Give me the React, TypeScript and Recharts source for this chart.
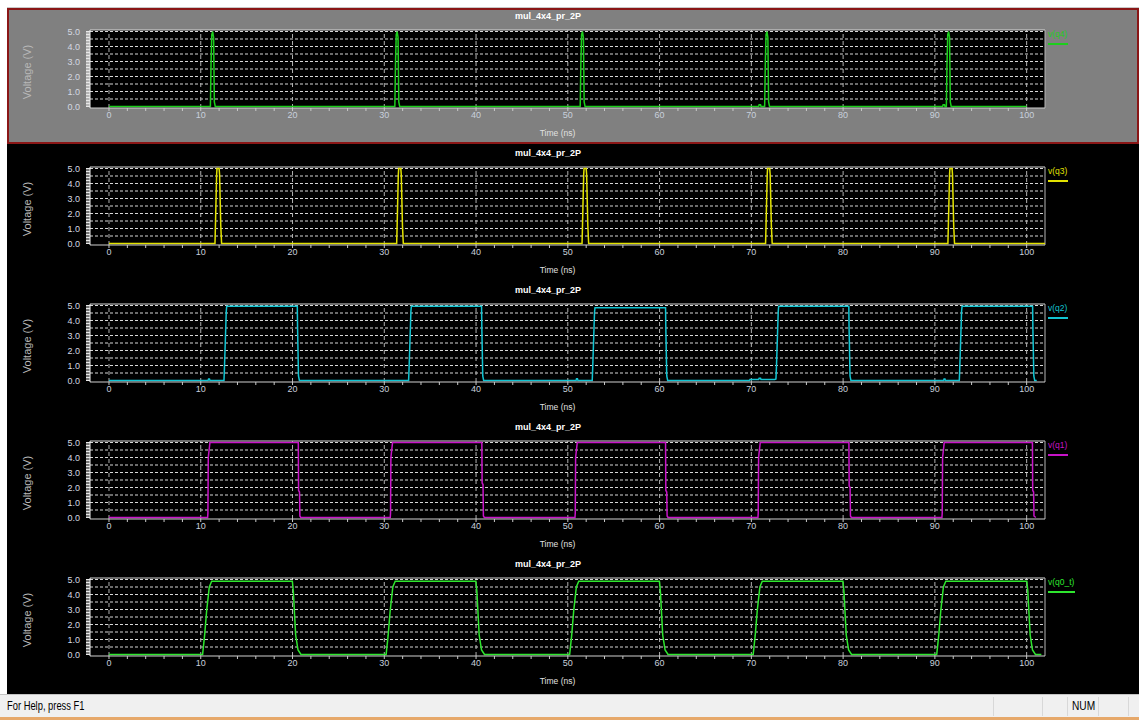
import { LineChart, Line, XAxis, YAxis, ReferenceLine, CartesianGrid } from 'recharts'

const FONT = '"Liberation Sans", Arial, sans-serif'

// axis ticks
const xTickLabels = [0, 10, 20, 30, 40, 50, 60, 70, 80, 90, 100]
const xMinorTicks = Array.from({ length: 51 }, (_, i) => i * 2)
const yTickLabels = [0, 1, 2, 3, 4, 5]
const yMinorTicks = Array.from({ length: 51 }, (_, i) => i / 10)
const yGridLevels = [0.5, 1, 1.5, 2, 2.5, 3, 3.5, 4, 4.5, 5]

const panelTitle = 'mul_4x4_pr_2P'

// [time (ns), voltage (V)]
const q4Points: [number, number][] = [
  [0, 0],
  [11.05, 0], [11.12, 2.8], [11.2, 4.8], [11.3, 5.0], [11.4, 4.6], [11.48, 0.3], [11.58, 0],
  [31.15, 0], [31.22, 2.8], [31.3, 4.8], [31.4, 5.0], [31.5, 4.6], [31.58, 0.3], [31.68, 0],
  [51.35, 0], [51.42, 2.8], [51.5, 4.8], [51.6, 5.0], [51.7, 4.6], [51.78, 0.3], [51.88, 0],
  [70.8, 0], [70.85, 0.12], [71.0, 0.12], [71.05, 0],
  [71.45, 0], [71.52, 2.8], [71.6, 4.8], [71.7, 5.0], [71.8, 4.6], [71.88, 0.3], [71.98, 0],
  [90.85, 0], [90.9, 0.12], [91.05, 0.12], [91.1, 0],
  [91.25, 0], [91.32, 2.8], [91.4, 4.8], [91.5, 5.0], [91.6, 4.6], [91.68, 0.3], [91.78, 0],
  [100, 0],
]

const q3Points: [number, number][] = [
  [0, 0],
  [11.55, 0], [11.6, 1.2], [11.73, 4.6], [11.77, 5.0], [12.0, 5.0], [12.05, 4.6], [12.18, 1.2], [12.27, 0],
  [31.35, 0], [31.4, 1.2], [31.53, 4.6], [31.57, 5.0], [31.8, 5.0], [31.85, 4.6], [31.98, 1.2], [32.07, 0],
  [51.55, 0], [51.6, 1.2], [51.73, 4.6], [51.77, 5.0], [52.0, 5.0], [52.05, 4.6], [52.18, 1.2], [52.27, 0],
  [71.55, 0], [71.6, 1.2], [71.73, 4.6], [71.77, 5.0], [72.0, 5.0], [72.05, 4.6], [72.18, 1.2], [72.27, 0],
  [91.42, 0], [91.47, 1.2], [91.6, 4.6], [91.64, 5.0], [91.87, 5.0], [91.92, 4.6], [92.05, 1.2], [92.14, 0],
  [102, 0],
]

const q2Points: [number, number][] = [
  [0, 0], [10.8, 0], [10.85, 0.1], [10.95, 0.1], [11.0, 0],
  [12.53, 0], [12.58, 0.8], [12.78, 4.6], [12.83, 4.95], [20.52, 4.95], [20.55, 3.5], [20.65, 0.3], [20.75, 0],
  [32.65, 0], [32.7, 0.8], [32.9, 4.6], [32.95, 4.95], [40.6, 4.95], [40.63, 3.5], [40.73, 0.3], [40.83, 0],
  [50.9, 0], [50.95, 0.12], [51.05, 0.12], [51.1, 0],
  [52.66, 0], [52.71, 0.8], [52.91, 4.55], [52.96, 4.85], [60.65, 4.85], [60.68, 3.5], [60.78, 0.3], [60.88, 0],
  [69.8, 0], [69.85, 0.06], [70.8, 0.06], [70.85, 0.15], [71.0, 0.15], [71.05, 0.06], [72.55, 0.06],
  [72.68, 0.1], [72.73, 0.8], [72.93, 4.6], [72.98, 4.95], [80.62, 4.95], [80.65, 3.5], [80.75, 0.3], [80.85, 0],
  [90.95, 0], [91.0, 0.1], [91.1, 0.1], [91.15, 0],
  [92.66, 0], [92.71, 0.8], [92.91, 4.6], [92.96, 4.95], [100.65, 4.95], [100.68, 3.5], [100.78, 0.3], [100.88, 0],
  [101.1, 0],
]

const q1Points: [number, number][] = [
  [0, 0],
  [10.75, 0], [10.78, 0.3], [10.82, 4.0], [11.0, 5.0], [20.63, 5.0], [20.66, 1.8], [20.76, 1.7], [20.8, 0.1], [20.9, 0],
  [30.65, 0], [30.68, 0.3], [30.72, 4.0], [30.9, 5.0], [40.63, 5.0], [40.66, 2.3], [40.76, 2.2], [40.8, 0.1], [40.9, 0],
  [50.78, 0], [50.81, 0.3], [50.85, 4.0], [51.03, 5.0], [60.65, 5.0], [60.68, 1.8], [60.78, 1.7], [60.82, 0.1], [60.92, 0],
  [70.72, 0], [70.75, 0.3], [70.79, 4.0], [70.97, 5.0], [80.63, 5.0], [80.66, 2.1], [80.76, 2.0], [80.8, 0.1], [80.9, 0],
  [90.77, 0], [90.8, 0.3], [90.84, 4.0], [91.02, 5.0], [100.63, 5.0], [100.66, 1.8], [100.76, 1.7], [100.8, 0.1], [100.9, 0.05], [101.0, 0],
]

const q0Points: [number, number][] = [
  [0, 0],
  [10.2, 0], [10.42, 1.27], [10.64, 2.9], [10.93, 4.5], [11.19, 4.88], [19.98, 4.88], [20.09, 4.2], [20.34, 1.3], [20.6, 0.3], [20.92, 0],
  [30.2, 0], [30.42, 1.27], [30.64, 2.9], [30.93, 4.5], [31.19, 4.88], [39.98, 4.88], [40.09, 4.2], [40.34, 1.3], [40.6, 0.3], [40.92, 0],
  [50.2, 0], [50.42, 1.27], [50.64, 2.9], [50.93, 4.5], [51.19, 4.88], [59.98, 4.88], [60.09, 4.2], [60.34, 1.3], [60.6, 0.3], [60.92, 0],
  [70.2, 0], [70.42, 1.27], [70.64, 2.9], [70.93, 4.5], [71.19, 4.88], [79.98, 4.88], [80.09, 4.2], [80.34, 1.3], [80.6, 0.3], [80.92, 0],
  [90.2, 0], [90.42, 1.27], [90.64, 2.9], [90.93, 4.5], [91.19, 4.88], [100.02, 4.88], [100.13, 4.2], [100.38, 1.3], [100.64, 0.3], [100.96, 0],
  [101.6, 0],
]

const seriesNames = ['v(q4)', 'v(q3)', 'v(q2)', 'v(q1)', 'v(q0_t)']
const seriesColors = ['#1ccf1c', '#e2e200', '#12c4d2', '#c814c8', '#2ee62e']
const seriesPoints = [q4Points, q3Points, q2Points, q1Points, q0Points]

const XTick = (props: any) => {
  const { x, y, payload } = props
  if (!xTickLabels.includes(payload.value)) return <g />
  return (
    <text x={x} y={y} dy={7} textAnchor="middle" fill="#c8d0dc" fontSize={9} fontFamily={FONT}>
      {payload.value}
    </text>
  )
}

const YTick = (props: any) => {
  const { x, y, payload } = props
  const v = payload.value
  if (!yTickLabels.some((l) => Math.abs(l - v) < 1e-6)) return <g />
  return (
    <text x={x} y={y} dy={3} textAnchor="end" fill="#d4d8e0" fontSize={9} fontFamily={FONT}>
      {v.toFixed(1)}
    </text>
  )
}

const renderVoltLabel = (props: any) => {
  const vb = props.viewBox
  const cx = vb.x + 20
  const cy = vb.y + vb.height / 2 + 3
  return (
    <text transform={`translate(${cx},${cy}) rotate(-90)`} textAnchor="middle" dominantBaseline="central"
      fill="#b8b8b8" fontSize={11} fontFamily={FONT}>
      Voltage (V)
    </text>
  )
}

const renderTimeLabel = (props: any) => {
  const vb = props.viewBox
  return (
    <text x={vb.x + vb.width / 2 - 10} y={vb.y + 25} textAnchor="middle" dominantBaseline="central"
      fill="#e0e0e0" fontSize={8.5} fontFamily={FONT}>
      Time (ns)
    </text>
  )
}

function Panel({ index }: { index: number }) {
  const rows = seriesPoints[index].map(([t, v]) => ({ t, v }))
  const color = seriesColors[index]
  const name = seriesNames[index]
  return (
    <div style={{ position: 'absolute', left: 7, top: 8 + 137 * index, width: 1132, height: 137 }}>
      <LineChart width={1132} height={137} margin={{ top: 22, right: 94, bottom: 7, left: 0 }}
        style={{ fontFamily: FONT }}>
        <CartesianGrid fill="#000" stroke="none" horizontal={false} vertical={false} />
        <XAxis type="number" dataKey="t" domain={[-2.07, 102]} allowDataOverflow ticks={xMinorTicks}
          interval={0} tick={<XTick />} tickSize={3} tickMargin={0}
          tickLine={{ stroke: '#c8c8c8' }} axisLine={{ stroke: '#d0d0d0' }} height={30}
          label={renderTimeLabel} />
        <YAxis type="number" domain={[-0.1, 5.1]} allowDataOverflow ticks={yMinorTicks} interval={0}
          tick={<YTick />} tickSize={4} tickMargin={6} tickLine={{ stroke: '#e8e8e8' }}
          axisLine={{ stroke: '#f4f4f4' }} width={83} label={renderVoltLabel} />
        {yGridLevels.map((y) => (
          <ReferenceLine key={'h' + y} y={y} stroke="#d8d8d8" strokeDasharray="3 2" />
        ))}
        {xTickLabels.map((x) => (
          <ReferenceLine key={'v' + x} x={x} stroke="#b0b0b0" strokeDasharray="4 3" />
        ))}
        <ReferenceLine y={5.1} stroke="#d8d8d8" />
        <ReferenceLine x={102} stroke="#b4b4b4" />
        <Line data={rows} dataKey="v" type="linear" stroke={color} strokeWidth={1.5}
          dot={false} isAnimationActive={false} />
      </LineChart>
      <div style={{ position: 'absolute', left: 548 - 7 - 60, width: 120, top: 3, textAlign: 'center',
        color: '#fff', fontSize: 9, fontWeight: 'bold', fontFamily: FONT }}>
        {panelTitle}
      </div>
      <div style={{ position: 'absolute', left: 1041, top: 21, color, fontSize: 8.5, fontFamily: FONT }}>
        {name}
      </div>
      <div style={{ position: 'absolute', left: 1041, top: 35, width: name.length > 5 ? 27 : 20,
        height: 1.5, background: color }} />
    </div>
  )
}

export default function App() {
  return (
    <div style={{ position: 'fixed', left: 0, top: 0, width: 1139, height: 720, background: '#fff',
      overflow: 'hidden', fontFamily: FONT }}>
      <div style={{ position: 'absolute', left: 7, top: 7, width: 1132, height: 1, background: '#c8c8c8' }} />
      <div style={{ position: 'absolute', left: 7, top: 8, width: 1132, height: 136, background: '#808080',
        border: '2px solid #8a1616', boxSizing: 'border-box' }} />
      <div style={{ position: 'absolute', left: 7, top: 144, width: 1132, height: 550, background: '#000' }} />
      {seriesNames.map((_, i) => (
        <Panel key={i} index={i} />
      ))}
      <div style={{ position: 'absolute', left: 0, top: 694, width: 1139, height: 23, background: '#f0f0f0',
        borderTop: '1px solid #c4c4c4', boxSizing: 'border-box' }}>
        <div style={{ position: 'absolute', left: 7, top: 3, fontSize: 13, color: '#000', fontFamily: FONT,
          transform: 'scaleX(0.72)', transformOrigin: 'left', whiteSpace: 'nowrap' }}>
          For Help, press F1
        </div>
        {[993, 1042, 1067, 1098, 1128].map((x) => (
          <div key={x} style={{ position: 'absolute', left: x, top: 2, width: 1, height: 19, background: '#d8d8d8' }} />
        ))}
        <div style={{ position: 'absolute', left: 1072, top: 3, fontSize: 13, color: '#000', fontFamily: FONT,
          transform: 'scaleX(0.78)', transformOrigin: 'left' }}>
          NUM
        </div>
      </div>
      <div style={{ position: 'absolute', left: 0, top: 717, width: 1139, height: 3, background: '#e6a86a' }} />
    </div>
  )
}
